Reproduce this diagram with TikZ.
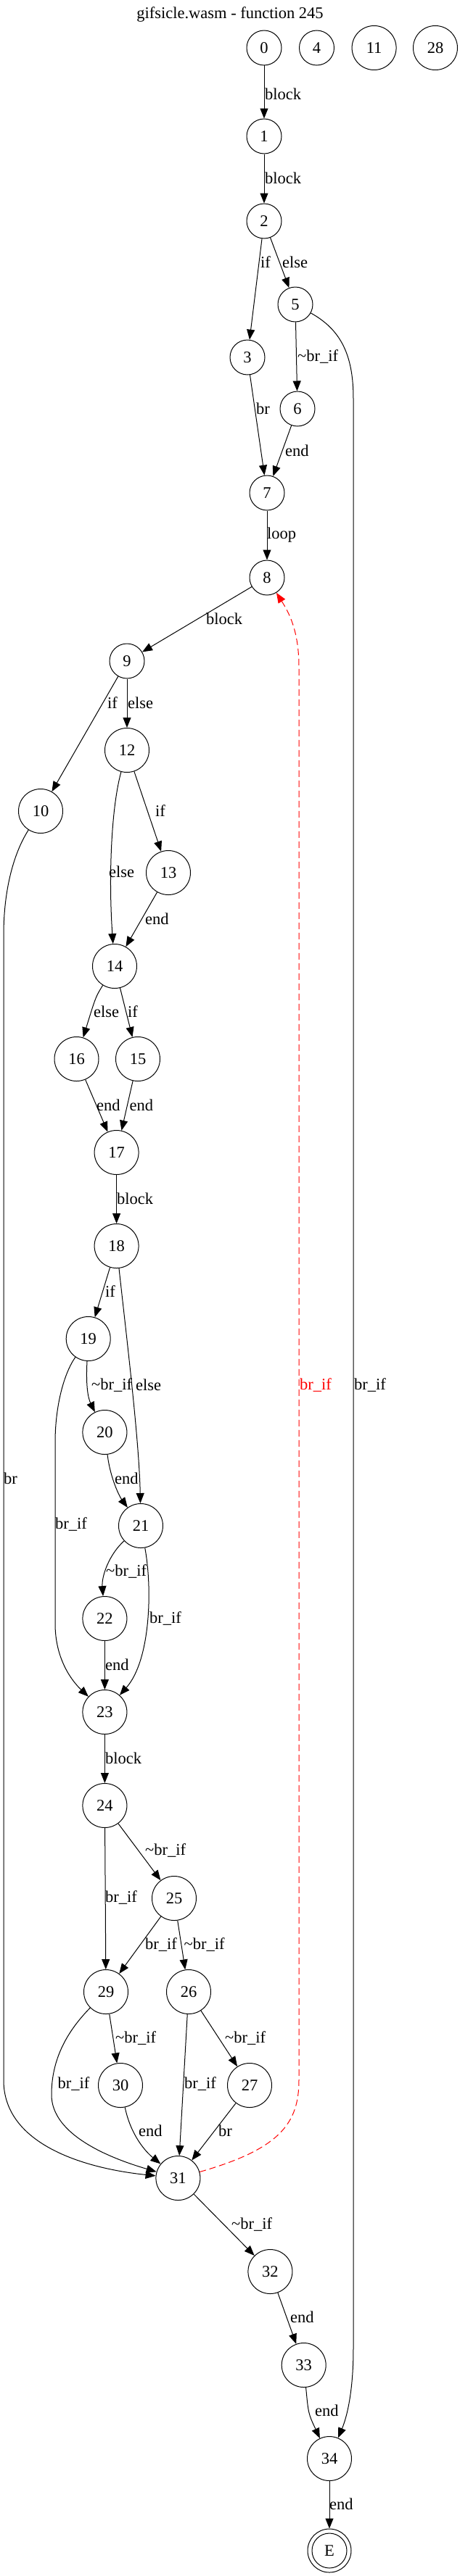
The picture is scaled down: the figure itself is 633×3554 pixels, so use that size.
\documentclass[tikz,border=0pt]{standalone}
\usepackage{fontspec}
\setmainfont{Liberation Serif}
\usetikzlibrary{arrows.meta}
\begin{document}
\begin{tikzpicture}[x=1pt,y=-1pt,
  every node/.style={font=\fontsize{22.5}{27}\selectfont},
  sn/.style={draw,circle,line width=1pt,minimum size=48pt,inner sep=0pt},
  bn/.style={draw,circle,line width=1pt,minimum size=61pt,inner sep=0pt},
  lbl/.style={anchor=west,inner sep=0pt},
  edge/.style={line width=1pt,-{Triangle[length=14pt,width=11pt]}},
  redge/.style={edge,red,dash pattern=on 9pt off 5pt},
]
\useasboundingbox (0,0) rectangle (633,3554);
\node (title) at (317,20) {gifsicle.wasm - function 245};
% nodes
\node[sn] (n0) at (364,66) {0};
\node[sn] (n4) at (436.5,66) {4};
\node[bn] (n11) at (515.6,66) {11};
\node[bn] (n28) at (600,66) {28};
\node[sn] (n1) at (364,188) {1};
\node[sn] (n2) at (364,305) {2};
\node[sn] (n5) at (407,420) {5};
\node[sn] (n3) at (341,493) {3};
\node[sn] (n6) at (410,564) {6};
\node[sn] (n7) at (368,680) {7};
\node[sn] (n8) at (368,797) {8};
\node[sn] (n9) at (175,912) {9};
\node[bn] (n12) at (175,1035) {12};
\node[bn] (n10) at (56,1119) {10};
\node[bn] (n13) at (232,1204) {13};
\node[bn] (n14) at (158,1333) {14};
\node[bn] (n16) at (105.5,1461) {16};
\node[bn] (n15) at (190,1461) {15};
\node[bn] (n17) at (160.6,1590) {17};
\node[bn] (n18) at (160.6,1719) {18};
\node[bn] (n19) at (121.7,1847) {19};
\node[bn] (n20) at (144.4,1976) {20};
\node[bn] (n21) at (194,2105) {21};
\node[bn] (n22) at (144.4,2233) {22};
\node[bn] (n23) at (144.4,2362) {23};
\node[bn] (n24) at (144.4,2491) {24};
\node[bn] (n25) at (240,2619) {25};
\node[bn] (n29) at (146,2748) {29};
\node[bn] (n26) at (260,2748) {26};
\node[bn] (n30) at (166,2877) {30};
\node[bn] (n27) at (344,2877) {27};
\node[bn] (n31) at (245.4,3005) {31};
\node[bn] (n32) at (372.4,3134) {32};
\node[bn] (n33) at (418.7,3263) {33};
\node[bn] (n34) at (454,3392) {34};
\node[draw,circle,line width=1pt,minimum size=60pt,inner sep=0pt] (E) at (454,3519) {};
\node[sn] (Ein) at (E) {E};
% edges
\draw[edge] (n0) -- (n1);
\draw[edge] (n1) -- (n2);
\draw[edge] (n2) -- (n3);
\draw[edge] (n2) -- (n5);
\draw[edge] (n5) -- (n6);
\draw[edge] (n5) .. controls (470,455) and (487,490) .. (487,550) -- (487,3240) .. controls (487,3300) and (478,3335) .. (n34);
\draw[edge] (n3) -- (n7);
\draw[edge] (n6) -- (n7);
\draw[edge] (n7) -- (n8);
\draw[edge] (n8) -- (n9);
\draw[edge] (n9) -- (n10);
\draw[edge] (n9) -- (n12);
\draw[edge] (n12) -- (n13);
\draw[edge] (n12) .. controls (152,1120) and (150,1220) .. (n14);
\draw[edge] (n13) -- (n14);
\draw[edge] (n10) .. controls (20,1175) and (5,1225) .. (5,1290) -- (5,2870) .. controls (5,2960) and (120,2992) .. (n31);
\draw[edge] (n14) .. controls (132,1375) .. (n16);
\draw[edge] (n14) -- (n15);
\draw[edge] (n16) -- (n17);
\draw[edge] (n15) -- (n17);
\draw[edge] (n17) -- (n18);
\draw[edge] (n18) -- (n19);
\draw[edge] (n18) .. controls (175,1850) and (192,1990) .. (n21);
\draw[edge] (n19) .. controls (118,1915) and (122,1930) .. (n20);
\draw[edge] (n19) .. controls (88,1895) and (76,1940) .. (76,1990) -- (76,2240) .. controls (76,2290) and (100,2320) .. (n23);
\draw[edge] (n20) .. controls (152,2040) and (165,2065) .. (n21);
\draw[edge] (n21) .. controls (150,2145) and (140,2175) .. (n22);
\draw[edge] (n21) .. controls (210,2190) and (208,2290) .. (n23);
\draw[edge] (n22) -- (n23);
\draw[edge] (n23) -- (n24);
\draw[edge] (n24) -- (n25);
\draw[edge] (n24) -- (n29);
\draw[edge] (n25) -- (n29);
\draw[edge] (n25) -- (n26);
\draw[edge] (n29) -- (n30);
\draw[edge] (n29) .. controls (85,2810) and (71,2850) .. (71,2890) .. controls (71,2945) and (150,2977) .. (n31);
\draw[edge] (n26) -- (n27);
\draw[edge] (n26) -- (n31);
\draw[edge] (n30) .. controls (180,2945) and (200,2968) .. (n31);
\draw[edge] (n27) -- (n31);
\draw[redge] (n31) .. controls (385,2965) and (412,2930) .. (412,2870) -- (412,920) .. controls (412,870) and (398,845) .. (n8);
\draw[edge] (n31) -- (n32);
\draw[edge] (n32) -- (n33);
\draw[edge] (n33) .. controls (425,3330) .. (n34);
\draw[edge] (n34) -- (E);
% labels
\node[lbl] (l01) at (365,130) {block};
\node[lbl] (l02) at (365,246) {block};
\node[lbl] (l03) at (359,362) {if};
\node[lbl] (l04) at (389,362) {else};
\node[lbl] (l05) at (410,492) {\textasciitilde br\_if};
\node[lbl] (l06) at (353,564) {br};
\node[lbl] (l07) at (393,622) {end};
\node[lbl] (l08) at (368,738) {loop};
\node[lbl] (l09) at (284,854) {block};
\node[lbl] (l10) at (148,970) {if};
\node[lbl] (l11) at (176,970) {else};
\node[lbl] (l12) at (214,1119) {if};
\node[lbl] (l13) at (150,1203) {else};
\node[lbl] (l14) at (200,1268) {end};
\node[lbl] (l15) at (129,1396) {else};
\node[lbl] (l16) at (176,1396) {if};
\node[lbl] (l17) at (133,1525) {end};
\node[lbl] (l18) at (178.5,1525) {end};
\node[lbl] (l19) at (161,1654) {block};
\node[lbl] (l20) at (145,1782) {if};
\node[lbl] (l21) at (126,1911) {\textasciitilde br\_if};
\node[lbl] (l22) at (187,1911) {else};
\node[lbl,text=red] (l23) at (413,1911) {br\_if};
\node[lbl] (l24) at (488,1911) {br\_if};
\node[lbl] (l25) at (5,2040) {br};
\node[lbl] (l26) at (158,2040) {end};
\node[lbl] (l27) at (76,2103) {br\_if};
\node[lbl] (l28) at (146,2168) {\textasciitilde br\_if};
\node[lbl] (l29) at (206,2233) {br\_if};
\node[lbl] (l30) at (145,2297) {end};
\node[lbl] (l31) at (145,2426) {block};
\node[lbl] (l32) at (200,2553) {\textasciitilde br\_if};
\node[lbl] (l33) at (145,2618) {br\_if};
\node[lbl] (l34) at (200,2683) {br\_if};
\node[lbl] (l35) at (253.5,2683) {\textasciitilde br\_if};
\node[lbl] (l36) at (159,2812) {\textasciitilde br\_if};
\node[lbl] (l37) at (310,2812) {\textasciitilde br\_if};
\node[lbl] (l38) at (79.5,2875) {br\_if};
\node[lbl] (l39) at (254,2875) {br\_if};
\node[lbl] (l40) at (191,2940) {end};
\node[lbl] (l41) at (301,2940) {br};
\node[lbl] (l42) at (319,3069) {\textasciitilde br\_if};
\node[lbl] (l43) at (400,3197) {end};
\node[lbl] (l44) at (434,3326) {end};
\node[lbl] (l45) at (454,3455) {end};
\end{tikzpicture}
\end{document}
